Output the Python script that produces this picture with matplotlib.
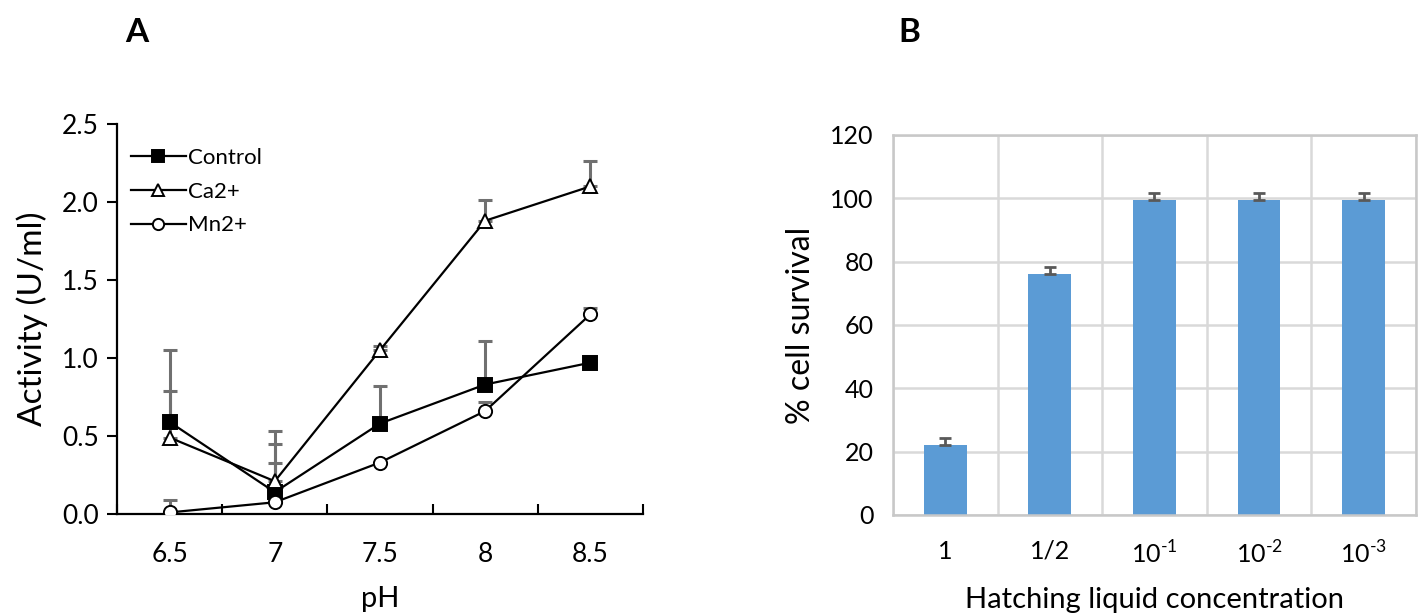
import numpy as np
import matplotlib
matplotlib.use("Agg")
import matplotlib.pyplot as plt

plt.rcParams["font.family"] = ["Lato", "DejaVu Sans"]
plt.rcParams["mathtext.fontset"] = "custom"
plt.rcParams["mathtext.rm"] = "Lato"

# panel A
ph_labels = ["6.5", "7", "7.5", "8", "8.5"]
control = [0.59, 0.14, 0.58, 0.83, 0.97]
control_err = [0.46, 0.31, 0.24, 0.28, 0.04]
ca = [0.49, 0.21, 1.05, 1.88, 2.10]
ca_err = [0.30, 0.32, 0.03, 0.13, 0.16]
mn = [0.01, 0.075, 0.33, 0.66, 1.28]
mn_err = [0.08, 0.25, 0.0, 0.06, 0.04]

# panel B
conc_labels = ["1", "1/2", r"10$^{\text{-1}}$", r"10$^{\text{-2}}$", r"10$^{\text{-3}}$"]
survival = [22.2, 76.0, 99.6, 99.6, 99.6]
survival_err = [2.2, 2.3, 2.2, 2.2, 2.2]

fig = plt.figure(figsize=(14.21, 6.16), dpi=100)

ax = fig.add_axes([0.0823, 0.1656, 0.3702, 0.6331])
x = np.arange(len(ph_labels))
series = [
    ("Control", control, control_err, "s", "black"),
    ("Ca2+", ca, ca_err, "^", "white"),
    ("Mn2+", mn, mn_err, "o", "white"),
]
for name, vals, err, mk, fc in series:
    ax.errorbar(x, vals, yerr=[np.zeros(len(err)), err], fmt="none",
                ecolor="#707070", elinewidth=2.2, capsize=5, capthick=2.2, zorder=2)
for name, vals, err, mk, fc in series:
    ax.plot(x, vals, color="black", lw=1.6, marker=mk, markersize=9.5,
            markerfacecolor=fc, markeredgecolor="black", markeredgewidth=1.4,
            label=name, zorder=3)

ax.set_xlim(-0.5, 4.5)
ax.set_ylim(0, 2.5)
ax.set_yticks(np.arange(0, 2.51, 0.5))
ax.set_yticklabels([f"{v:.1f}" for v in np.arange(0, 2.51, 0.5)])
ax.set_xticks(x)
ax.set_xticklabels(ph_labels)
ax.set_xticks(np.arange(-0.5, 4.6, 1), minor=True)
ax.tick_params(axis="x", which="major", length=0, pad=20, labelsize=19)
ax.tick_params(axis="x", which="minor", length=7, width=1.5, direction="in")
ax.tick_params(axis="y", length=7, width=1.5, direction="out", labelsize=19, pad=6)
for s in ["top", "right"]:
    ax.spines[s].set_visible(False)
for s in ["left", "bottom"]:
    ax.spines[s].set_linewidth(1.6)
ax.set_xlabel("pH", fontsize=21, labelpad=14)
ax.set_ylabel("Activity (U/ml)", fontsize=24, labelpad=10)
leg = ax.legend(loc="upper left", bbox_to_anchor=(-0.012, 0.99), frameon=False,
                fontsize=16, handlelength=2.5, handletextpad=0.1, labelspacing=0.62,
                markerscale=0.85)
fig.text(0.096, 0.948, "A", fontsize=24, fontweight="bold", ha="center", va="center")

# panel B
bx = fig.add_axes([0.6284, 0.164, 0.368, 0.617])
xb = np.arange(len(conc_labels))
bx.bar(xb, survival, width=0.41, color="#5B9BD5", zorder=2)
bx.errorbar(xb, survival, yerr=[np.zeros(len(survival_err)), survival_err], fmt="none",
            ecolor="#595959", elinewidth=2, capsize=4, capthick=2, zorder=3)
bx.set_xlim(-0.5, 4.5)
bx.set_ylim(0, 120)
bx.set_yticks(np.arange(0, 121, 20))
bx.set_xticks(xb)
bx.set_xticklabels(conc_labels)
bx.set_xticks(np.arange(-0.5, 4.6, 1), minor=True)
bx.grid(True, axis="y", which="major", color="#d9d9d9", lw=1.8, zorder=0)
bx.grid(True, axis="x", which="minor", color="#d9d9d9", lw=1.8, zorder=0)
bx.tick_params(axis="both", which="both", length=0, labelsize=18)
bx.tick_params(axis="x", pad=18)
bx.tick_params(axis="y", pad=14)
for s in bx.spines.values():
    s.set_color("#c8c8c8")
    s.set_linewidth(1.8)
bx.set_xlabel("Hatching liquid concentration", fontsize=21, labelpad=14)
bx.set_ylabel("% cell survival", fontsize=23, labelpad=10)
fig.text(0.640, 0.948, "B", fontsize=24, fontweight="bold", ha="center", va="center")

fig.savefig("out.png", dpi=100)
